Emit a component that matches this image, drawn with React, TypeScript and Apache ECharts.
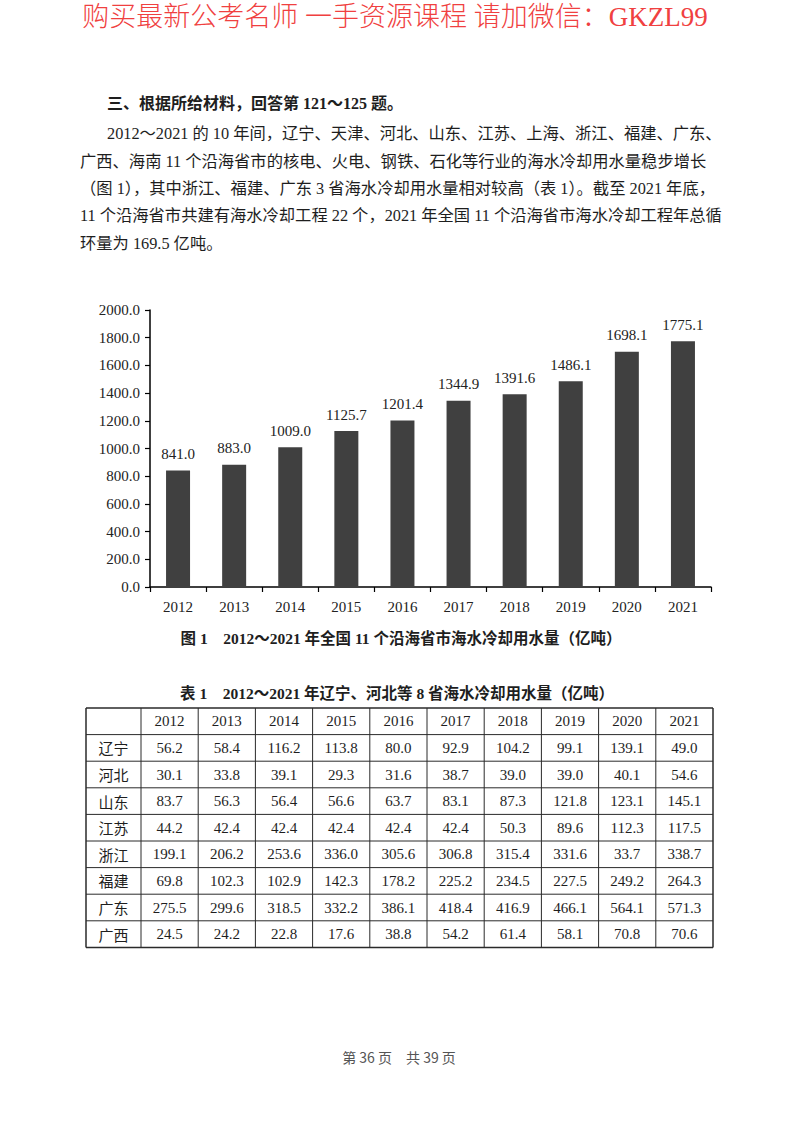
import React, { useEffect, useRef } from "react";
import * as echarts from "echarts";

const headerText = "购买最新公考名师 一手资源课程 请加微信：GKZL99";
const headingText = "三、根据所给材料，回答第 121～125 题。";
const paragraphLines = [
  "2012～2021 的 10 年间，辽宁、天津、河北、山东、江苏、上海、浙江、福建、广东、",
  "广西、海南 11 个沿海省市的核电、火电、钢铁、石化等行业的海水冷却用水量稳步增长",
  "（图 1），其中浙江、福建、广东 3 省海水冷却用水量相对较高（表 1）。截至 2021 年底，",
  "11 个沿海省市共建有海水冷却工程 22 个，2021 年全国 11 个沿海省市海水冷却工程年总循",
  "环量为 169.5 亿吨。",
];
const years = ["2012", "2013", "2014", "2015", "2016", "2017", "2018", "2019", "2020", "2021"];
const totalUse = [841.0, 883.0, 1009.0, 1125.7, 1201.4, 1344.9, 1391.6, 1486.1, 1698.1, 1775.1];
const figureCaption = "图 1　2012～2021 年全国 11 个沿海省市海水冷却用水量（亿吨）";
const tableCaption = "表 1　2012～2021 年辽宁、河北等 8 省海水冷却用水量（亿吨）";
const provinces = ["辽宁", "河北", "山东", "江苏", "浙江", "福建", "广东", "广西"];
const liaoning = [56.2, 58.4, 116.2, 113.8, 80.0, 92.9, 104.2, 99.1, 139.1, 49.0];
const hebei = [30.1, 33.8, 39.1, 29.3, 31.6, 38.7, 39.0, 39.0, 40.1, 54.6];
const shandong = [83.7, 56.3, 56.4, 56.6, 63.7, 83.1, 87.3, 121.8, 123.1, 145.1];
const jiangsu = [44.2, 42.4, 42.4, 42.4, 42.4, 42.4, 50.3, 89.6, 112.3, 117.5];
const zhejiang = [199.1, 206.2, 253.6, 336.0, 305.6, 306.8, 315.4, 331.6, 33.7, 338.7];
const fujian = [69.8, 102.3, 102.9, 142.3, 178.2, 225.2, 234.5, 227.5, 249.2, 264.3];
const guangdong = [275.5, 299.6, 318.5, 332.2, 386.1, 418.4, 416.9, 466.1, 564.1, 571.3];
const guangxi = [24.5, 24.2, 22.8, 17.6, 38.8, 54.2, 61.4, 58.1, 70.8, 70.6];
const footerText = "第 36 页　共 39 页";

const SERIF = "'Liberation Serif', 'Noto Sans CJK SC', serif";
const CJK = "'Noto Sans CJK SC', sans-serif";

function txt(text: string, x: number, y: number, opts: any = {}) {
  return {
    type: "text",
    x,
    y,
    silent: true,
    style: {
      text,
      fill: opts.fill || "#1e1e1e",
      fontSize: opts.fontSize || 16,
      fontFamily: opts.fontFamily || SERIF,
      fontWeight: opts.fontWeight || "normal",
      align: opts.align || "left",
      verticalAlign: "middle",
    },
  };
}

function buildTable() {
  const rowsData = [liaoning, hebei, shandong, jiangsu, zhejiang, fujian, guangdong, guangxi];
  const left = 86;
  const firstW = 55;
  const colW = 57.2;
  const top = 708;
  const rowH = 26.6;
  const nRows = provinces.length + 1;
  const right = left + firstW + colW * years.length;
  const bottom = top + rowH * nRows;
  const els: any[] = [];
  const lineStyle = { stroke: "#2a2a2a", lineWidth: 1 };
  for (let i = 0; i <= nRows; i++) {
    const y = top + i * rowH;
    els.push({ type: "line", silent: true, shape: { x1: left, y1: y, x2: right, y2: y }, style: { ...lineStyle, lineWidth: i === 0 || i === nRows ? 1.5 : 1 } });
  }
  const xs = [left, left + firstW];
  for (let k = 1; k <= years.length; k++) xs.push(left + firstW + k * colW);
  xs.forEach((x, idx) => {
    els.push({ type: "line", silent: true, shape: { x1: x, y1: top, x2: x, y2: bottom }, style: { ...lineStyle, lineWidth: idx === 0 || idx === xs.length - 1 ? 1.5 : 1 } });
  });
  years.forEach((yr, k) => {
    els.push(txt(yr, left + firstW + (k + 0.5) * colW, top + rowH * 0.5, { fontSize: 15, align: "center" }));
  });
  provinces.forEach((p, r) => {
    const cy = top + rowH * (r + 1.5);
    els.push(txt(p, left + firstW / 2, cy, { fontSize: 15, align: "center", fontFamily: CJK }));
    rowsData[r].forEach((v, k) => {
      els.push(txt(v.toFixed(1), left + firstW + (k + 0.5) * colW, cy, { fontSize: 15, align: "center" }));
    });
  });
  return els;
}

export default function App() {
  const ref = useRef<HTMLDivElement>(null);
  useEffect(() => {
    if (!ref.current) return;
    const chart = echarts.init(ref.current, undefined, { renderer: "svg" });
    const graphic: any[] = [];
    graphic.push(txt(headerText, 395, 17, { fontSize: 27, fill: "#f04040", fontWeight: 300, align: "center" }));
    graphic.push(txt(headingText, 107, 103, { fontSize: 16, fontWeight: "bold" }));
    const lineYs = [133, 161, 188, 215, 243];
    paragraphLines.forEach((l, i) => {
      graphic.push(txt(l, i === 0 ? 107 : 80, lineYs[i], { fontSize: 16.3 }));
    });
    graphic.push(txt(figureCaption, 401, 638, { fontSize: 15.5, fontWeight: "bold", align: "center" }));
    graphic.push(txt(tableCaption, 397, 693, { fontSize: 15.5, fontWeight: "bold", align: "center" }));
    graphic.push(...buildTable());
    graphic.push(txt(footerText, 399, 1057, { fontSize: 14, fill: "#555", fontFamily: CJK, align: "center" }));

    chart.setOption({
      animation: false,
      backgroundColor: "#ffffff",
      grid: { left: 150, top: 310, width: 561, height: 277, containLabel: false },
      xAxis: {
        type: "category",
        data: years,
        axisLine: { show: true, lineStyle: { color: "#000", width: 1.5 } },
        axisTick: { show: true, length: 5, lineStyle: { color: "#000", width: 1.2 } },
        axisLabel: { margin: 12, fontSize: 15, fontFamily: SERIF, color: "#222" },
      },
      yAxis: {
        type: "value",
        min: 0,
        max: 2000,
        interval: 200,
        axisLine: { show: true, lineStyle: { color: "#000", width: 1.5 } },
        axisTick: { show: true, length: 5, lineStyle: { color: "#000", width: 1.2 } },
        splitLine: { show: false },
        axisLabel: {
          margin: 10,
          fontSize: 15,
          fontFamily: SERIF,
          color: "#222",
          formatter: (v: number) => v.toFixed(1),
        },
      },
      series: [
        {
          type: "bar",
          data: totalUse,
          barWidth: 24,
          itemStyle: { color: "#404040" },
          label: {
            show: true,
            position: "top",
            distance: 9,
            fontSize: 15,
            fontFamily: SERIF,
            color: "#222",
            formatter: (p: any) => Number(p.value).toFixed(1),
          },
        },
      ],
      graphic,
    });
    return () => chart.dispose();
  }, []);
  return (
    <div style={{ position: "absolute", left: 0, top: 0, width: 800, height: 1124, background: "#fff" }}>
      <div ref={ref} style={{ width: 800, height: 1124 }} />
    </div>
  );
}
